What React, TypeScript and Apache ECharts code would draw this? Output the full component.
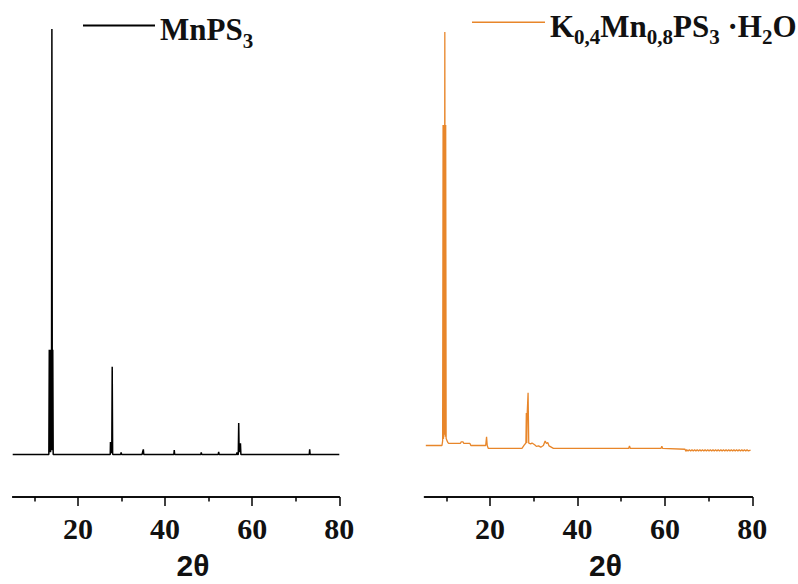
import React, { useEffect, useRef } from "react";
import * as echarts from "echarts";

// ---- data ----
const xMin = 5;
const xMax = 80;
const majorTicks = [20, 40, 60, 80];
const minorTicks = [10, 30, 50, 70];
const axisTitle = "2θ";
const seriesNames = ["MnPS3", "K0,4Mn0,8PS3·H2O"];
const legendLabels = [
  "{m|MnPS}{s|3}",
  "{m|K}{s|0,4}{m|Mn}{s|0,8}{m|PS}{s|3}{m| ·H}{s|2}{m|O}",
];

// MnPS3 pattern: [2θ, relative intensity]
const mnps3: [number, number][] = [
  [5, 0], [13.3, 0], [13.4, 24.6], [13.5, 0.5], [13.6, 24.6], [13.7, 0.5],
  [13.8, 24.6], [13.9, 1], [14.0, 100], [14.1, 1], [14.2, 24.6], [14.3, 0],
  [27.4, 0], [27.45, 2.9], [27.55, 0.3], [27.65, 2.9], [27.75, 0.3],
  [27.85, 20.6], [27.95, 0.2], [28.0, 0],
  [29.8, 0], [29.9, 0.5], [30.0, 0],
  [34.7, 0], [34.9, 0.8], [35.0, 1.2], [35.1, 0],
  [42.0, 0], [42.1, 1], [42.2, 0],
  [48.2, 0], [48.3, 0.5], [48.4, 0],
  [52.2, 0], [52.3, 0.6], [52.4, 0],
  [56.4, 0], [56.5, 0.5], [56.6, 0], [56.8, 0], [56.9, 7.4], [57.0, 0.5],
  [57.1, 2.6], [57.2, 0.6], [57.3, 2.6], [57.4, 0],
  [73.1, 0], [73.2, 1.2], [73.3, 0],
  [80, 0],
];

// K0.4Mn0.8PS3·H2O pattern
const kmnps: [number, number][] = [
  [5.3, 0.4], [9.0, 0.4], [9.15, 1.5], [9.25, 77.6], [9.35, 2], [9.45, 77.6],
  [9.55, 3], [9.65, 100], [9.75, 2.5], [9.85, 77.6], [9.95, 2.1], [10.1, 2.1],
  [10.3, 1.2], [10.5, 0.9], [13.2, 0.9], [13.4, 1.3], [13.8, 1.3], [14.0, 0.9],
  [15.4, 0.9], [15.6, 0.4], [19.0, 0.4], [19.2, 2.5], [19.35, 0.4], [19.6, -0.3],
  [27.3, -0.3], [27.8, 0.5], [28.2, 1], [28.3, 8.2], [28.4, 1], [28.5, 8.2],
  [28.7, 13.1], [28.85, 1], [29.3, 0.8], [29.6, 1], [30.2, 0.6], [30.6, 0.2],
  [31.1, 0.3], [31.6, 0], [32.2, 0.4], [32.6, 1.5], [32.9, 0.9], [33.2, 1.1],
  [33.5, 0.3], [34.5, -0.3], [51.7, -0.3], [51.9, 0.3], [52.1, -0.3],
  [59.1, -0.3], [59.3, 0.2], [59.5, -0.3], [64.6, -0.5], [64.8, -1], [65.0, -0.6],
  [65.3, -0.9], [65.6, -0.6], [65.9, -0.9], [66.2, -0.6], [66.5, -0.9], [66.8, -0.6],
  [67.1, -0.9], [67.4, -0.6], [67.7, -0.9], [68.0, -0.6], [68.3, -0.9], [68.6, -0.6],
  [68.9, -0.9], [69.2, -0.6], [69.5, -0.9], [69.8, -0.6], [70.1, -0.9], [70.4, -0.6],
  [70.7, -0.9], [71.0, -0.6], [71.3, -0.9], [71.6, -0.6], [71.9, -0.9], [72.2, -0.6],
  [72.5, -0.9], [72.8, -0.6], [73.1, -0.9], [73.4, -0.6], [73.7, -0.9], [74.0, -0.6],
  [74.3, -0.9], [74.6, -0.6], [74.9, -0.9], [75.2, -0.6], [75.5, -0.9], [75.8, -0.6],
  [76.1, -0.9], [76.4, -0.6], [76.7, -0.9], [77.0, -0.6], [77.3, -0.9], [77.6, -0.6],
  [77.9, -0.9], [78.2, -0.6], [78.5, -0.9], [78.8, -0.6], [79.1, -0.9], [79.6, -0.7],
];

const serif = "Liberation Serif";
const sans = "Liberation Sans";

export default function App() {
  const ref = useRef<HTMLDivElement>(null);

  useEffect(() => {
    if (!ref.current) return;
    const chart = echarts.init(ref.current, undefined, { renderer: "svg" });

    const rich: any = {
      m: {
        fontFamily: serif, fontWeight: "bold", fontSize: 31, lineHeight: 31,
        padding: [4, 0, 2, 0], verticalAlign: "top", color: "#111",
      },
      s: {
        fontFamily: serif, fontWeight: "bold", fontSize: 21, lineHeight: 21,
        padding: [20, 0, 0, 0], verticalAlign: "top", color: "#111",
      },
    };

    const axisLineStyle = { color: "#000", width: 1.5 };
    const majorAxis = (gridIndex: number) => ({
      type: "value", gridIndex, min: xMin, max: xMax, position: "bottom",
      splitLine: { show: false },
      axisLine: { show: true, onZero: false, lineStyle: axisLineStyle },
      axisTick: { show: true, customValues: majorTicks, length: 9, lineStyle: axisLineStyle },
      axisLabel: {
        customValues: majorTicks, margin: 16, fontFamily: serif,
        fontWeight: "bold", fontSize: 30, color: "#111",
      },
      name: axisTitle, nameLocation: "middle", nameGap: 53,
      nameTextStyle: {
        fontFamily: sans, fontWeight: "bold", fontSize: 30, color: "#111",
        padding: [0, 0, 0, 34],
      },
    });
    const minorAxis = (gridIndex: number) => ({
      type: "value", gridIndex, min: xMin, max: xMax, position: "bottom",
      splitLine: { show: false },
      axisLine: { show: true, onZero: false, lineStyle: axisLineStyle },
      axisTick: { show: true, customValues: minorTicks, length: 4.5, lineStyle: axisLineStyle },
      axisLabel: { show: false },
    });

    chart.setOption({
      animation: false,
      backgroundColor: "#fff",
      textStyle: { fontFamily: serif },
      grid: [
        { left: 12.7, top: 29, width: 326.6, height: 468, containLabel: false, outerBoundsMode: "none" },
        { left: 424.5, top: 32, width: 327.8, height: 465, containLabel: false, outerBoundsMode: "none" },
      ],
      xAxis: [majorAxis(0), minorAxis(0), majorAxis(1), minorAxis(1)],
      yAxis: [
        { type: "value", gridIndex: 0, min: -10, max: 100, show: false },
        { type: "value", gridIndex: 1, min: -12, max: 100, show: false },
      ],
      legend: [
        {
          data: [seriesNames[0]], left: 83, top: 10, padding: 0,
          icon: "rect", itemWidth: 72, itemHeight: 2, selectedMode: false,
          formatter: () => legendLabels[0], textStyle: { rich },
        },
        {
          data: [seriesNames[1]], left: 472, top: 6.7, padding: 0,
          icon: "rect", itemWidth: 73, itemHeight: 1.5, selectedMode: false,
          formatter: () => legendLabels[1], textStyle: { rich },
        },
      ],
      series: [
        {
          type: "line", name: seriesNames[0], xAxisIndex: 0, yAxisIndex: 0,
          data: mnps3, showSymbol: false, symbol: "none",
          lineStyle: { color: "#000", width: 1.5 }, itemStyle: { color: "#000" },
        },
        {
          type: "line", name: seriesNames[1], xAxisIndex: 2, yAxisIndex: 1,
          data: kmnps, showSymbol: false, symbol: "none",
          lineStyle: { color: "#E8862A", width: 1.3 }, itemStyle: { color: "#E8862A" },
        },
      ],
    });

    return () => chart.dispose();
  }, []);

  return (
    <div
      ref={ref}
      style={{ position: "absolute", left: 0, top: 0, width: 798, height: 584 }}
    />
  );
}
